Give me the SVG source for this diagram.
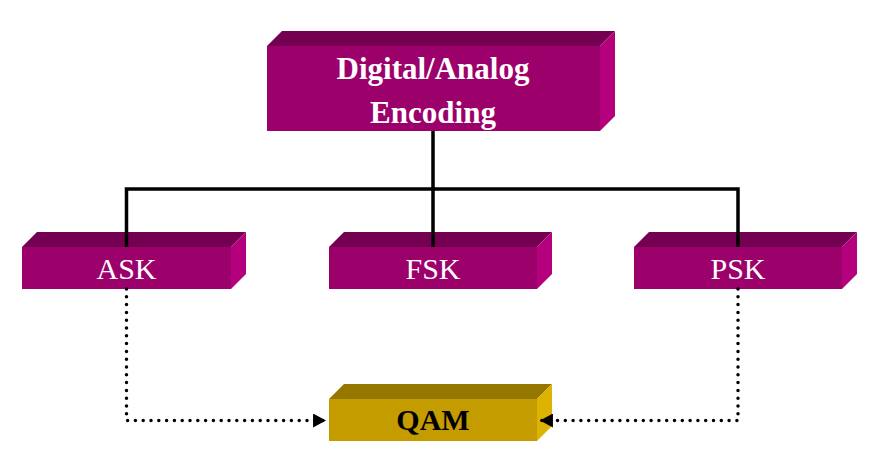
<svg xmlns="http://www.w3.org/2000/svg" width="877" height="472" viewBox="0 0 877 472">
<style>
.front{fill:#9C006B}
.top{fill:#740052}
.side{fill:#B5007D}
.qfront{fill:#C49C00}
.qtop{fill:#957700}
.qside{fill:#DDB200}
.lbl{font-family:"Liberation Serif","Times New Roman",serif;font-size:30px;text-anchor:middle;fill:#fff}
.b{font-weight:bold}
.t{font-size:31px}
.solid{fill:none;stroke:#000;stroke-width:3.5}
.dot{fill:none;stroke:#000;stroke-width:3.5;stroke-linecap:round;stroke-dasharray:0 7.8}
</style>
<defs>
<marker id="arr" markerUnits="userSpaceOnUse" markerWidth="13" markerHeight="14" viewBox="0 0 12 13" refX="12" refY="6.5" orient="auto">
<path d="M0,0 L12,6.5 L0,13 Z" fill="#000"/>
</marker>
</defs>
<rect width="877" height="472" fill="#fff"/>
<g id="digital-analog">
<rect class="front" x="267" y="46" width="333" height="85"/>
<polygon class="top" points="267,46 282,31 615,31 600,46"/>
<polygon class="side" points="600,46 615,31 615,116 600,131"/>
<text class="lbl b t" x="433" y="79">Digital/Analog</text>
<text class="lbl b t" x="433" y="123">Encoding</text>
</g>
<g id="ask">
<rect class="front" x="22" y="247" width="209" height="42"/>
<polygon class="top" points="22,247 37,232 246,232 231,247"/>
<polygon class="side" points="231,247 246,232 246,274 231,289"/>
<text class="lbl" x="126.5" y="279">ASK</text>
</g>
<g id="fsk">
<rect class="front" x="329" y="247" width="208" height="42"/>
<polygon class="top" points="329,247 344,232 552,232 537,247"/>
<polygon class="side" points="537,247 552,232 552,274 537,289"/>
<text class="lbl" x="433" y="279">FSK</text>
</g>
<g id="psk">
<rect class="front" x="634" y="247" width="208" height="42"/>
<polygon class="top" points="634,247 649,232 857,232 842,247"/>
<polygon class="side" points="842,247 857,232 857,274 842,289"/>
<text class="lbl" x="738" y="279">PSK</text>
</g>
<g id="qam">
<rect class="qfront" x="329" y="399" width="208" height="42"/>
<polygon class="qtop" points="329,399 344,384 552,384 537,399"/>
<polygon class="qside" points="537,399 552,384 552,426 537,441"/>
<text class="lbl b" x="433" y="430" style="fill:#000">QAM</text>
</g>
<g id="connectors">
<path class="solid" d="M433,131 V247"/>
<path class="solid" d="M126.5,247 V189 H738 V247"/>
<path class="dot" d="M126.5,289 V420.5 H326" marker-end="url(#arr)"/>
<path class="dot" d="M738,289 V420.5 H540" marker-end="url(#arr)"/>
</g>
</svg>
